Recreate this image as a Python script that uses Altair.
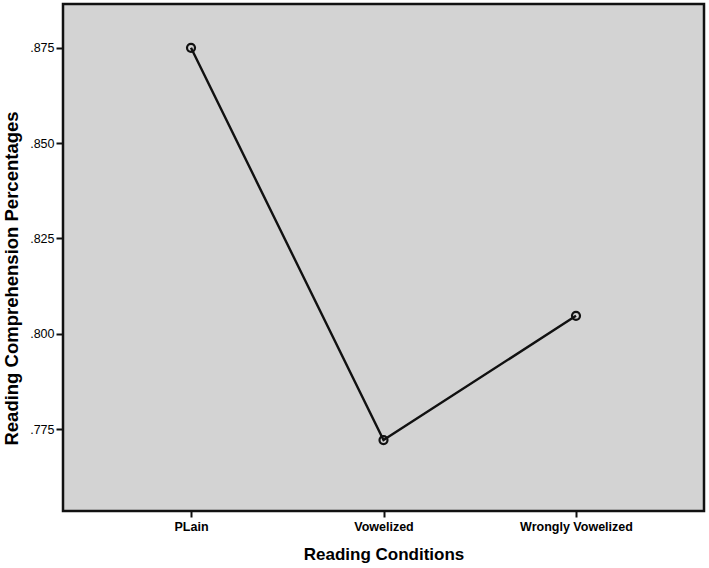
import altair as alt
import pandas as pd

conditions = ["PLain", "Vowelized", "Wrongly Vowelized"]
values = [0.875, 0.7721, 0.8047]
y_ticks = [0.775, 0.800, 0.825, 0.850, 0.875]

df = pd.DataFrame({"cond": conditions, "val": values})

x = alt.X("cond:N", sort=conditions, title="Reading Conditions",
          scale=alt.Scale(type="point", padding=0.665),
          axis=alt.Axis(labelAngle=0, labelFont="Liberation Sans", labelFontSize=12.5,
                        labelFontWeight="bold", labelColor="#000", titleFont="Liberation Sans",
                        titleFontSize=17, titleFontWeight="bold", titleColor="#000",
                        titlePadding=14, tickSize=6, tickWidth=2, tickColor="#111",
                        domain=False, labelPadding=3, grid=False))
y = alt.Y("val:Q", title="Reading Comprehension Percentages",
          scale=alt.Scale(domain=[0.7535, 0.8865], nice=False, zero=False),
          axis=alt.Axis(values=y_ticks,
                        labelExpr="replace(format(datum.value, '.3f'), '0.', '.')",
                        labelFont="Liberation Sans", labelFontSize=12.5, labelColor="#000",
                        titleFont="Liberation Sans", titleFontSize=18.5, titleFontWeight="bold",
                        titleColor="#000", titlePadding=8, titleY=274, tickSize=7, tickWidth=2,
                        tickColor="#111", domain=False, labelPadding=2, grid=False))

line = alt.Chart(df).mark_line(color="#111", strokeWidth=2.4).encode(x=x, y=y)
pts = alt.Chart(df).mark_point(shape="circle", filled=False, color="#111", size=64,
                               strokeWidth=2.2, opacity=1).encode(x=x, y=y)

chart = (line + pts).properties(
    width=641, height=507,
    autosize=alt.AutoSizeParams(type="none"),
    padding={"left": 63, "top": 4, "right": 5, "bottom": 57},
    background="white",
).configure_view(fill="#d3d3d3", stroke="#111", strokeWidth=2.5)

chart.save("out.html", embed_options={"renderer": "svg", "actions": False})
